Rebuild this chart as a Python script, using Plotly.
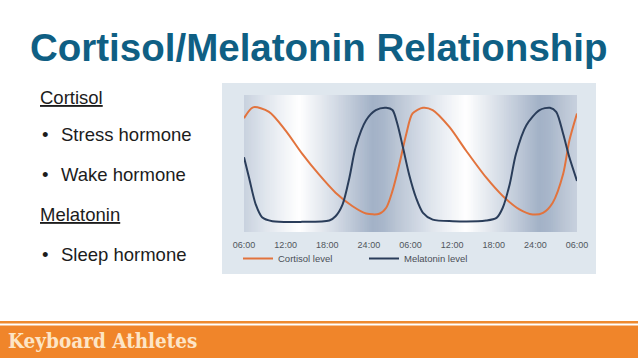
import plotly.graph_objects as go

W, H = 638, 359

# ---- data ----
hours_c = [0, 1.3, 3.6, 6, 8.4, 10.8, 13.2, 15.6, 17.6, 19.5, 20.5, 21.4, 22.4, 23.4,
           24.3, 25.8, 27.2, 29.6, 32, 34.9, 37.3, 39.7, 41.6, 43.1, 44.5, 46, 46.9, 48]
cortisol = [83, 91, 87.7, 74, 57, 42, 28.7, 19, 13.5, 13.3, 17.7, 30, 49.6, 71.7,
            86.5, 90.7, 89, 76.7, 59.5, 39.8, 26.3, 16.5, 12.8, 14, 21.4, 42.3, 66.8, 86.5]

hours_m = [0, 0.72, 1.7, 2.6, 4.1, 8.4, 12.3, 13.2, 14.2, 15.2, 16.1, 17.6, 19, 20.5,
           21.4, 22.1, 22.9, 23.8, 24.8, 25.8, 27.2, 30.1, 34.9, 36.4, 37.3, 38.3, 39.2,
           40.7, 42.6, 44.1, 45, 46, 46.9, 48]
melatonin = [54.5, 39.8, 20, 10.8, 7.9, 7.4, 8.4, 11.5, 20, 39.8, 62, 81.6, 89, 90.7,
             89, 79, 62, 42, 25, 14, 9, 7.9, 8.4, 10.3, 17.7, 34.9, 57,
             78, 89, 90.7, 87.7, 71.7, 54.5, 37.3]

tick_hours = [0, 6, 12, 18, 24, 30, 36, 42, 48]
tick_labels = ["06:00", "12:00", "18:00", "24:00", "06:00", "12:00", "18:00", "24:00", "06:00"]

series_names = ["Cortisol level", "Melatonin level"]

# ---- styling ----
ORANGE = "#e2733d"
NAVY = "#2a3d5a"
SANS = "Liberation Sans, Arial, sans-serif"

# background gradient stops within one 24 h period
GRAD_H = [0, 3, 6, 8, 10, 13, 16, 18.5, 20, 22, 24]
GRAD_C = ["#c8d1de", "#dfe5ed", "#f3f5f8", "#ffffff", "#eef1f5", "#d5dce6",
          "#bac5d5", "#a3b2c7", "#a8b6ca", "#bac5d4", "#c8d1de"]


def hex2rgb(h):
    h = h.lstrip("#")
    return [int(h[i:i + 2], 16) for i in (0, 2, 4)]


def grad_color(t):
    t = t % 24
    for i in range(len(GRAD_H) - 1):
        if GRAD_H[i] <= t <= GRAD_H[i + 1]:
            f = (t - GRAD_H[i]) / (GRAD_H[i + 1] - GRAD_H[i])
            a, b = hex2rgb(GRAD_C[i]), hex2rgb(GRAD_C[i + 1])
            c = [round(a[k] + (b[k] - a[k]) * f) for k in range(3)]
            return "rgb(%d,%d,%d)" % tuple(c)
    return GRAD_C[0]


def px_x(p):
    return p / W


def px_y(p):
    return (H - p) / H


fig = go.Figure()
fig.add_trace(go.Scatter(x=hours_c, y=cortisol, mode="lines", name=series_names[0],
                         line=dict(color=ORANGE, width=2, shape="spline", smoothing=0.8)))
fig.add_trace(go.Scatter(x=hours_m, y=melatonin, mode="lines", name=series_names[1],
                         line=dict(color=NAVY, width=2, shape="spline", smoothing=0.8)))

shapes = []
# chart panel
shapes.append(dict(type="rect", xref="paper", yref="paper", x0=px_x(222), x1=px_x(596),
                   y0=px_y(274), y1=px_y(83), fillcolor="#dfe7ee", line=dict(width=0),
                   layer="below"))
# gradient stripes
step = 0.25
n = int(48 / step)
for i in range(n):
    x0 = i * step
    x1 = min(48, x0 + step + 0.15)
    shapes.append(dict(type="rect", xref="x", yref="y domain", x0=x0, x1=x1,
                       y0=0, y1=1, fillcolor=grad_color(x0 + step / 2),
                       line=dict(width=0), layer="below"))
# footer
shapes.append(dict(type="rect", xref="paper", yref="paper", x0=0, x1=1,
                   y0=px_y(323.5), y1=px_y(321), fillcolor="#ee8a2f", line=dict(width=0)))
shapes.append(dict(type="rect", xref="paper", yref="paper", x0=0, x1=1,
                   y0=px_y(358), y1=px_y(325.5), fillcolor="#f0852a", line=dict(width=0)))

BODY = dict(family=SANS, size=18.5, color="#1c1c1c")


def txt(text, x, y, font):
    return dict(text=text, x=px_x(x), y=px_y(y), xref="paper", yref="paper",
                xanchor="left", yanchor="middle", showarrow=False, font=font)


annotations = [
    txt("<b>Cortisol/Melatonin Relationship</b>", 28, 48,
        dict(family=SANS, size=38.5, color="#0f5f84")),
    txt("<u>Cortisol</u>", 38, 97, BODY),
    txt("•", 40, 134, BODY),
    txt("Stress hormone", 59, 134, BODY),
    txt("•", 40, 174, BODY),
    txt("Wake hormone", 59, 174, BODY),
    txt("<u>Melatonin</u>", 38, 214, BODY),
    txt("•", 40, 254, BODY),
    txt("Sleep hormone", 59, 254, BODY),
    txt("<b>Keyboard Athletes</b>", 6, 341,
        dict(family="DejaVu Serif Condensed, DejaVu Serif", size=20.5, color="#fde5c6")),
]

fig.update_layout(
    width=W, height=H,
    margin=dict(l=0, r=0, t=0, b=0, autoexpand=False),
    paper_bgcolor="white",
    plot_bgcolor="rgba(0,0,0,0)",
    showlegend=True,
    hovermode=False,
    legend=dict(orientation="h", x=px_x(238), y=px_y(244), xanchor="left", yanchor="top",
                bgcolor="rgba(0,0,0,0)", font=dict(family=SANS, size=9.5, color="#4a4f57"),
                entrywidth=81, entrywidthmode="pixels", itemwidth=30,
                tracegroupgap=0),
    xaxis=dict(domain=[px_x(244), px_x(577)], range=[0, 48], showgrid=False,
               zeroline=False, showline=False, tickmode="array", tickvals=tick_hours,
               ticktext=tick_labels, ticks="outside", ticklen=4, tickcolor="rgba(0,0,0,0)",
               tickfont=dict(family=SANS, size=9, color="#50555c"), fixedrange=True,
               automargin=False),
    yaxis=dict(domain=[px_y(232), px_y(95)], range=[0, 100], visible=False,
               fixedrange=True, automargin=False),
    shapes=shapes,
    annotations=annotations,
)

fig.write_html("out.html", config={"displayModeBar": False},
               post_script="document.body.style.margin='0px';")
